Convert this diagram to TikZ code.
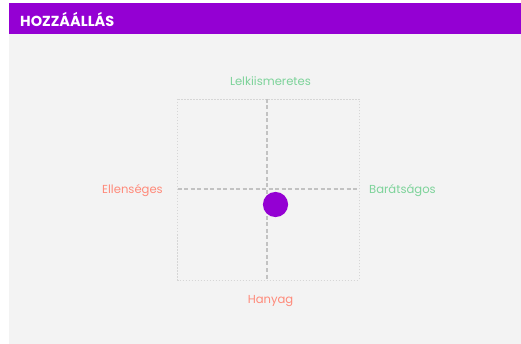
\documentclass[tikz,border=0pt]{standalone}
\usepackage{fontspec}
\setmainfont{Poppins}
\definecolor{hdr}{HTML}{9400D3}
\definecolor{panel}{HTML}{F3F3F3}
\definecolor{gridout}{HTML}{D6D6D6}
\definecolor{gridin}{HTML}{C2C2C2}
\definecolor{goodc}{HTML}{7DD39A}
\definecolor{badc}{HTML}{FF8A7A}
\begin{document}
\begin{tikzpicture}[x=1pt,y=-1pt,
  lbl/.style={font=\fontsize{11.6}{13}\selectfont, inner sep=0pt},
  good/.style={lbl, text=goodc},
  bad/.style={lbl, text=badc}]
\useasboundingbox (0,0) rectangle (521,344);
\fill[white] (0,0) rectangle (521,344);
\fill[panel] (9,34) rectangle (521,344);
\fill[hdr] (9,3) rectangle (521,34);
\node[anchor=west, text=white, font=\fontsize{14.5}{16}\selectfont\bfseries, inner sep=0pt] (title) at (20,19) {HOZZÁÁLLÁS};
% grid
\coordinate (tl) at (177.5,99);
\coordinate (br) at (359,280);
\coordinate (top) at (267,99);
\coordinate (bot) at (267,280);
\coordinate (lft) at (177.5,189);
\coordinate (rgt) at (359,189);
\draw[gridout, line width=0.9pt, dash pattern=on 1.5pt off 1.5pt] (tl) rectangle (br);
\draw[gridin, line width=1.4pt, dash pattern=on 4pt off 2.5pt] (top) -- (bot);
\draw[gridin, line width=1.4pt, dash pattern=on 4pt off 2.5pt] (lft) -- (rgt);
% labels
\node[good] (n) at (270.5,81) {Lelkiismeretes};
\node[bad] (s) at (270.5,301) {Hanyag};
\node[bad, anchor=east] (w) at (163,191) {Ellenséges};
\node[good, anchor=west] (e) at (369,191) {Barátságos};
% marker
\fill[hdr] (275.5,204.5) circle[radius=12.6];
\end{tikzpicture}
\end{document}
